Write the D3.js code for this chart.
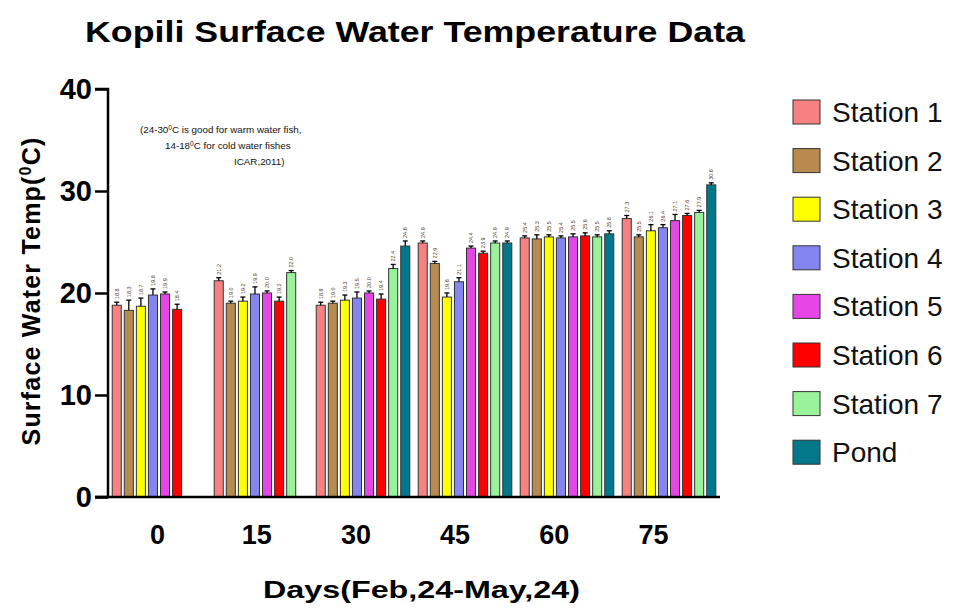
<!DOCTYPE html>
<html>
<head>
<meta charset="utf-8">
<script src="https://cdn.jsdelivr.net/npm/d3@7"></script>
<style>
  html, body { margin: 0; padding: 0; background: #fff; }
  svg { display: block; font-family: "Liberation Sans", Arial, sans-serif; }
</style>
</head>
<body>
<svg id="chart" width="954" height="608"></svg>
<script>
// Sampling days (days after Feb 24)
const days = ["0", "15", "30", "45", "60", "75"];
const seriesNames = ["Station 1", "Station 2", "Station 3", "Station 4", "Station 5", "Station 6", "Station 7", "Pond"];
const seriesColors = ["#F88080", "#B98A4E", "#FFFF00", "#8585F2", "#E546E5", "#FF0000", "#9AF29A", "#04788B"];

// Mean surface water temperature (°C) per station, per day
const station1 = [18.8, 21.2, 18.8, 24.9, 25.4, 27.3];
const station2 = [18.3, 19.0, 19.0, 22.9, 25.3, 25.5];
const station3 = [18.7, 19.2, 19.3, 19.6, 25.5, 26.1];
const station4 = [19.8, 19.9, 19.5, 21.1, 25.4, 26.4];
const station5 = [19.9, 20.0, 20.0, 24.4, 25.5, 27.1];
const station6 = [18.4, 19.2, 19.4, 23.9, 25.6, 27.6];
const station7 = [null, 22.0, 22.4, 24.9, 25.5, 27.9];
const pond     = [null, null, 24.6, 24.9, 25.8, 30.6];

// Standard deviations
const sd1 = [0.3, 0.3, 0.3, 0.2, 0.2, 0.3];
const sd2 = [1.0, 0.2, 0.2, 0.2, 0.4, 0.2];
const sd3 = [0.8, 0.4, 0.5, 0.4, 0.2, 0.6];
const sd4 = [0.6, 0.7, 0.6, 0.4, 0.2, 0.3];
const sd5 = [0.2, 0.2, 0.2, 0.2, 0.3, 0.6];
const sd6 = [0.5, 0.4, 0.5, 0.2, 0.3, 0.2];
const sd7 = [null, 0.2, 0.4, 0.2, 0.2, 0.2];
const sdPond = [null, null, 0.5, 0.2, 0.3, 0.2];

const yTicks = [0, 10, 20, 30, 40];

const allValues = [station1, station2, station3, station4, station5, station6, station7, pond];
const allSd = [sd1, sd2, sd3, sd4, sd5, sd6, sd7, sdPond];

const svg = d3.select("#chart");
const plot = { left: 108, right: 720, top: 89, bottom: 497 };

const x0 = d3.scaleBand().domain(days).range([plot.left, plot.right]).paddingInner(0).paddingOuter(0);
const x1 = d3.scaleBand().domain(seriesNames).range([3, x0.bandwidth() - 3]).paddingInner(0.25).paddingOuter(0.1);
// Day labels sit on their own evenly spaced positions along the axis
const xLabel = d3.scalePoint().domain(days).range([157, 653]);
const y = d3.scaleLinear().domain([0, 40]).range([plot.bottom, plot.top]);

// Title
svg.append("text")
  .attr("x", 85).attr("y", 42)
  .attr("font-size", 30).attr("font-weight", "bold")
  .attr("textLength", 660).attr("lengthAdjust", "spacingAndGlyphs")
  .text("Kopili Surface Water Temperature Data");

// Bars, error bars and value labels
const rows = [];
seriesNames.forEach((name, si) => {
  days.forEach((d, di) => {
    const v = allValues[si][di];
    if (v != null) rows.push({ name, si, day: d, v, sd: allSd[si][di] });
  });
});

const g = svg.append("g");
const cx = r => x0(r.day) + x1(r.name) + x1.bandwidth() / 2;

g.selectAll("rect.bar").data(rows).join("rect")
  .attr("class", "bar")
  .attr("x", r => x0(r.day) + x1(r.name))
  .attr("width", x1.bandwidth())
  .attr("y", r => y(r.v))
  .attr("height", r => y(0) - y(r.v))
  .attr("fill", r => seriesColors[r.si])
  .attr("stroke", "#333")
  .attr("stroke-width", 1);

const eb = g.selectAll("g.err").data(rows).join("g").attr("class", "err")
  .attr("stroke", "#000").attr("stroke-width", 1.3);
eb.append("line")
  .attr("x1", cx).attr("x2", cx)
  .attr("y1", r => y(r.v)).attr("y2", r => y(r.v + r.sd));
eb.append("line")
  .attr("x1", r => cx(r) - 2.5).attr("x2", r => cx(r) + 2.5)
  .attr("y1", r => y(r.v + r.sd)).attr("y2", r => y(r.v + r.sd));

g.selectAll("text.val").data(rows).join("text")
  .attr("class", "val")
  .attr("transform", r => `translate(${cx(r) + 2},${y(r.v + r.sd) - 3}) rotate(-90)`)
  .attr("font-size", 5.5)
  .attr("fill", "#444")
  .text(r => r.v.toFixed(1));

// Y axis
const yAxis = d3.axisLeft(y).tickValues(yTicks).tickSize(13).tickPadding(3);
const ya = svg.append("g").attr("transform", `translate(${plot.left},0)`).call(yAxis);
ya.select(".domain").attr("stroke-width", 2.5).attr("d", `M-13,${plot.top}H0V${plot.bottom}H-13`);
ya.selectAll(".tick line").attr("stroke-width", 2.5);
ya.selectAll(".tick text").attr("font-size", 29).attr("font-weight", "bold")
  .attr("font-family", "Liberation Sans, Arial, sans-serif").attr("fill", "#000");

// X axis
const xAxis = d3.axisBottom(xLabel).tickSize(0).tickPadding(28);
const xa = svg.append("g").attr("transform", `translate(0,${plot.bottom})`).call(xAxis);
xa.select(".domain").attr("stroke-width", 2.5).attr("d", `M${plot.left - 13},0H${plot.right}`);
xa.selectAll(".tick text").attr("font-size", 27).attr("font-weight", "bold")
  .attr("font-family", "Liberation Sans, Arial, sans-serif").attr("fill", "#000");

// Axis titles
svg.append("text")
  .attr("transform", `translate(40,${(plot.top + plot.bottom) / 2 - 2}) rotate(-90)`)
  .attr("text-anchor", "middle")
  .attr("font-size", 25).attr("font-weight", "bold")
  .attr("letter-spacing", 1.2)
  .html('Surface Water Temp(<tspan dy="-9" font-size="16">0</tspan><tspan dy="9">C)</tspan>');

svg.append("text")
  .attr("x", 263).attr("y", 598)
  .attr("font-size", 24).attr("font-weight", "bold")
  .attr("textLength", 317).attr("lengthAdjust", "spacingAndGlyphs")
  .text("Days(Feb,24-May,24)");

// Note on temperature suitability
const note = svg.append("g").attr("font-size", 9.8).attr("fill", "#111");
note.append("text").attr("x", 140).attr("y", 133)
  .html('(24-30<tspan dy="-3.5" font-size="6.5">0</tspan><tspan dy="3.5">C is good for warm water fish,</tspan>');
note.append("text").attr("x", 165).attr("y", 149)
  .html('14-18<tspan dy="-3.5" font-size="6.5">0</tspan><tspan dy="3.5">C for cold water fishes</tspan>');
note.append("text").attr("x", 234).attr("y", 165).text("ICAR,2011)");

// Legend
const legend = svg.append("g");
const li = legend.selectAll("g").data(seriesNames).join("g")
  .attr("transform", (d, i) => `translate(793,${100 + i * 48.6})`);
li.append("rect").attr("width", 27).attr("height", 24)
  .attr("fill", (d, i) => seriesColors[i]).attr("stroke", "#333").attr("stroke-width", 1);
li.append("text").attr("x", 39).attr("y", 22)
  .attr("font-size", 28).attr("fill", "#111").text(d => d);
</script>
</body>
</html>
